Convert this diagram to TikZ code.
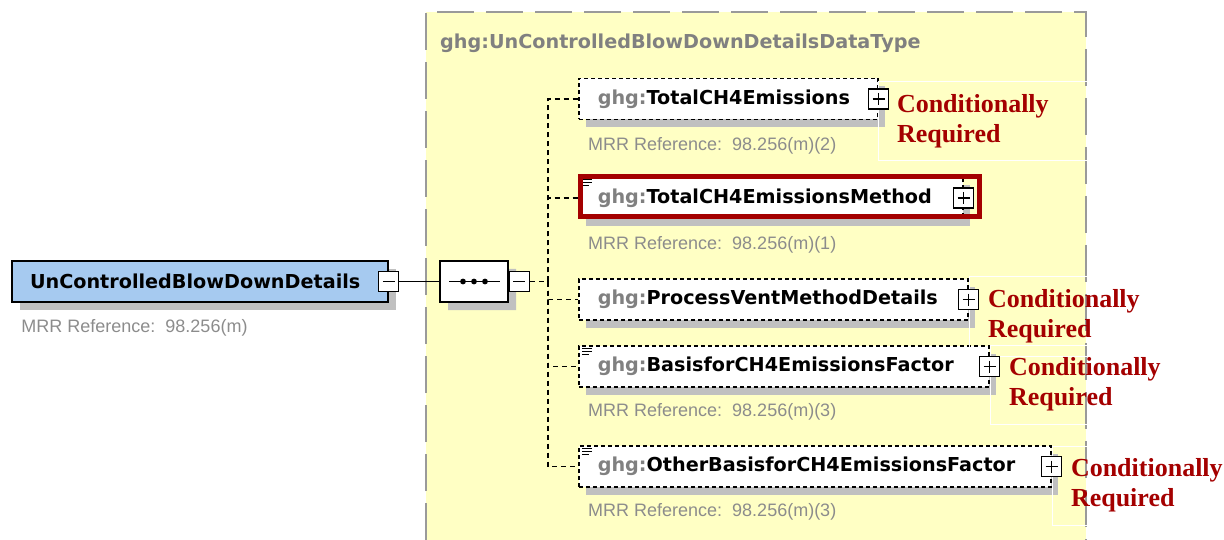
\documentclass[tikz,border=0pt]{standalone}
\usepackage{fontspec}
\newfontfamily\diagfont{DejaVu Sans}
\newfontfamily\mrrfont{Liberation Sans}
\newfontfamily\notefont{Liberation Serif}
\usetikzlibrary{positioning, shapes.misc, shadows}

\definecolor{typeyellow}{HTML}{FFFFC4}
\definecolor{typegray}{HTML}{9A9A9A}
\definecolor{rootblue}{HTML}{A6CAF0}
\definecolor{shadegray}{HTML}{C0C0C0}
\definecolor{nsgray}{HTML}{808080}
\definecolor{mrrgray}{HTML}{8C8C8C}
\definecolor{reqred}{HTML}{A40000}

\newcommand{\ns}{\color{nsgray}}

\tikzset{
  typeborder/.style={typegray, line width=2.5pt, dash pattern=on 37pt off 12pt},
  typetitle/.style={inner sep=0pt, text=nsgray, font=\diagfont\bfseries\fontsize{19.2}{22}\selectfont},
  rootbox/.style={draw, line width=1.5pt, fill=rootblue, minimum height=41pt,
    inner xsep=18pt, inner ysep=0pt, text width=340pt, align=left,
    font=\diagfont\bfseries\fontsize{19.2}{22}\selectfont,
    drop shadow={shadow xshift=8pt, shadow yshift=-8pt, fill=shadegray, opacity=1}},
  seqbox/.style={draw, line width=1.5pt, fill=white, chamfered rectangle,
    chamfered rectangle xsep=10pt, minimum width=68pt, minimum height=41pt, inner sep=0pt,
    drop shadow={shadow xshift=8pt, shadow yshift=-8pt, fill=shadegray, opacity=1}},
  childbox/.style={draw, line width=1.5pt, dash pattern=on 4pt off 3pt, fill=white,
    minimum height=41pt, inner xsep=19pt, inner ysep=0pt, text width=#1, align=left,
    anchor=west, font=\diagfont\bfseries\fontsize{19.2}{22}\selectfont,
    drop shadow={shadow xshift=7pt, shadow yshift=-8pt, fill=shadegray, opacity=1}},
  plusbox/.style={draw, solid, line width=1.3pt, fill=white, minimum size=20pt, inner sep=0pt,
    path picture={\draw[line width=1.3pt]
      ([xshift=4pt]path picture bounding box.west) -- ([xshift=-4pt]path picture bounding box.east)
      ([yshift=-4pt]path picture bounding box.north) -- ([yshift=4pt]path picture bounding box.south);}},
  minusbox/.style={draw, solid, line width=1.3pt, fill=white, minimum size=20pt, inner sep=0pt,
    path picture={\draw[line width=1.3pt]
      ([xshift=4pt]path picture bounding box.west) -- ([xshift=-4pt]path picture bounding box.east);}},
  mrr/.style={inner sep=0pt, text=mrrgray, font=\mrrfont\fontsize{18}{20}\selectfont},
  reqnote/.style={draw=white, line width=1pt, anchor=north west, minimum width=210pt,
    minimum height=79pt, inner xsep=19pt, inner ysep=0pt, text width=172pt, align=left,
    text=reqred, font=\notefont\bfseries\fontsize{26}{30}\selectfont},
  conn/.style={line width=1.5pt, dash pattern=on 5pt off 4pt},
  hilite/.style={reqred, line width=5pt},
}

% three short lines in a box corner
\newcommand{\listmark}[1]{%
  \draw[line width=1pt] ([xshift=4pt, yshift=-3pt]#1.north west) -- ++(10pt,0pt)
    ([xshift=4pt, yshift=-6pt]#1.north west) -- ++(10pt,0pt)
    ([xshift=4pt, yshift=-9pt]#1.north west) -- ++(7pt,0pt);}

\begin{document}
\begin{tikzpicture}[x=1pt, y=-1pt]
  \useasboundingbox (0,0) rectangle (1224,540);

  % --- complex type frame ---
  \fill[typeyellow] (426,12) rectangle (1086,540);
  \draw[typeborder] (426,540) -- (426,12) -- (1086,12) -- (1086,540);
  \node[typetitle, anchor=base west] (typename) at (440,49) {ghg:UnControlledBlowDownDetailsDataType};

  % --- root element ---
  \node[rootbox] (root) at (200,281.5) {UnControlledBlowDownDetails};
  \node[minusbox] (rootminus) at (root.east) {};
  \node[mrr, anchor=base west] (rootmrr) at ([xshift=10pt, yshift=-30pt]root.south west) {MRR Reference:~~98.256(m)};

  % --- sequence ---
  \node[seqbox] (seq) at (474,281.5) {};
  \draw[line width=1.5pt] ([xshift=-25pt]seq.center) -- ([xshift=26pt]seq.center);
  \foreach \dx in {-11,0,11}
    \fill ([xshift=\dx pt]seq.center) circle (2.9pt);
  \node[minusbox, anchor=west] (seqminus) at (seq.east) {};
  \draw[line width=1.5pt] (rootminus.east) -- (seq.west);

  % --- connectors ---
  \coordinate (trunk) at (548,281.5);
  \draw[conn] (seqminus.east) -- (trunk);
  \foreach \y/\c in {99/total, 198/method, 299.5/vent, 366.5/basis, 466.5/other}
    \draw[conn] (trunk) |- (578,\y) coordinate (\c-in);

  % --- child elements ---
  \node[childbox=261pt] (total) at (total-in) {{\ns ghg:}TotalCH4Emissions};
  \node[childbox=346pt] (method) at (method-in) {{\ns ghg:}TotalCH4EmissionsMethod};
  \node[childbox=351pt] (vent) at (vent-in) {{\ns ghg:}ProcessVentMethodDetails};
  \node[childbox=372pt] (basis) at (basis-in) {{\ns ghg:}BasisforCH4EmissionsFactor};
  \node[childbox=434pt] (other) at (other-in) {{\ns ghg:}OtherBasisforCH4EmissionsFactor};
  \listmark{method}
  \listmark{basis}
  \listmark{other}

  % --- notes ---
  \node[reqnote] (totalreq) at ([xshift=-1pt, yshift=18pt]total.east) {Conditionally\\Required};
  \node[reqnote] (ventreq) at ([yshift=23pt]vent.east) {Conditionally\\Required};
  \node[reqnote] (basisreq) at ([yshift=22pt]basis.east) {Conditionally\\Required};
  \node[reqnote] (otherreq) at ([yshift=21pt]other.east) {Conditionally\\Required};

  \foreach \c in {total, method, vent, basis, other}
    \node[plusbox] (\c-plus) at (\c.east) {};

  % --- references ---
  \node[mrr, anchor=base west] (totalmrr) at ([xshift=10pt, yshift=-30pt]total.south west) {MRR Reference:~~98.256(m)(2)};
  \node[mrr, anchor=base west] (methodmrr) at ([xshift=10pt, yshift=-30pt]method.south west) {MRR Reference:~~98.256(m)(1)};
  \node[mrr, anchor=base west] (basismrr) at ([xshift=10pt, yshift=-29pt]basis.south west) {MRR Reference:~~98.256(m)(3)};
  \node[mrr, anchor=base west] (othermrr) at ([xshift=10pt, yshift=-29pt]other.south west) {MRR Reference:~~98.256(m)(3)};

  % --- highlight ---
  \draw[hilite] ([xshift=2pt]method.north west) rectangle ([xshift=16pt, yshift=3pt]method.south east);

\end{tikzpicture}
\end{document}
